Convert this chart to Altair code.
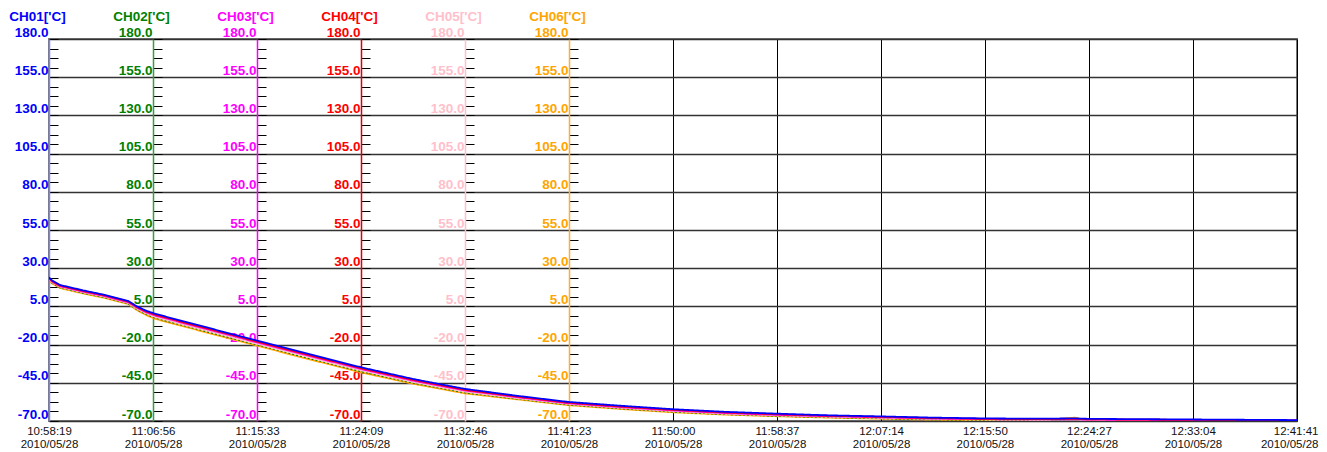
import altair as alt
import pandas as pd

# ---------------- data ----------------
channels = ["CH01", "CH02", "CH03", "CH04", "CH05", "CH06"]
unit = "['C]"
colors = ["#0000ff", "#008000", "#ff00ff", "#ff0000", "#ffc0cb", "#ffa500"]
axis_line_colors = ["#7f7fff", "#3c9c3c", "#ff00ff", "#e00000", "#ffc0cb", "#ffb030"]

day = (2010, 5, 28)
x_tick_labels = ["10:58:19", "11:06:56", "11:15:33", "11:24:09", "11:32:46",
                 "11:41:23", "11:50:00", "11:58:37", "12:07:14", "12:15:50",
                 "12:24:27", "12:33:04", "12:41:41"]

times = ["10:58:19", "10:58:34", "10:59:14", "11:01:08", "11:02:57", "11:04:52",
         "11:05:36", "11:06:21", "11:07:06", "11:09:10", "11:11:24", "11:13:28",
         "11:15:33", "11:19:56", "11:24:14", "11:28:28", "11:32:46", "11:37:05",
         "11:41:18", "11:45:37", "11:50:00", "11:54:18", "11:58:37", "12:02:55",
         "12:07:14", "12:11:32", "12:15:50", "12:20:09", "12:23:18", "12:24:27",
         "12:28:46", "12:33:04", "12:37:22", "12:41:41"]

ch01 = [24.0, 22.0, 19.0, 15.5, 12.5, 8.6, 5.0, 2.2, 0.2, -4.2, -8.8, -13.1,
        -17.4, -26.4, -35.0, -42.5, -49.0, -53.5, -57.5, -60.0, -62.3, -64.0,
        -65.2, -66.3, -67.0, -67.8, -68.3, -68.5, -68.3, -68.6, -68.8, -69.0,
        -69.2, -69.4]
ch02 = [22.4, 20.4, 17.4, 13.9, 10.9, 7.0, 3.1, 0.0, -2.4, -6.8, -11.4, -15.7,
        -20.0, -29.0, -37.6, -45.0, -51.3, -55.4, -59.2, -61.7, -63.9, -65.5,
        -66.6, -67.5, -68.2, -68.9, -69.3, -69.4, -69.3, -69.5, -69.7, -69.9,
        -70.0, -70.0]
ch03 = [23.2, 21.2, 18.2, 14.7, 11.7, 7.8, 4.2, 1.2, -0.9, -5.3, -9.9, -14.2,
        -18.5, -27.5, -36.1, -43.6, -50.0, -54.4, -58.4, -60.9, -63.1, -64.8,
        -66.0, -66.9, -67.6, -68.4, -68.8, -69.0, -68.9, -69.1, -69.3, -69.5,
        -69.6, -69.8]
ch04 = [23.6, 21.6, 18.6, 15.1, 12.1, 8.2, 4.6, 1.7, -0.4, -4.8, -9.4, -13.7,
        -18.0, -27.0, -35.6, -43.1, -49.6, -54.0, -58.0, -60.5, -62.7, -64.4,
        -65.6, -66.6, -67.3, -68.1, -68.6, -68.8, -68.6, -68.9, -69.1, -69.3,
        -69.4, -69.6]
ch05 = [22.8, 20.8, 17.8, 14.3, 11.3, 7.4, 3.6, 0.6, -1.8, -6.2, -10.8, -15.1,
        -19.4, -28.4, -37.0, -44.4, -50.8, -55.0, -58.8, -61.3, -63.5, -65.2,
        -66.3, -67.2, -67.9, -68.6, -69.0, -69.2, -69.1, -69.3, -69.5, -69.7,
        -69.8, -70.0]
ch06 = [22.0, 20.0, 17.0, 13.5, 10.5, 6.6, 2.6, -0.6, -3.1, -7.5, -12.1, -16.4,
        -20.7, -29.7, -38.3, -45.6, -51.9, -55.8, -59.6, -62.1, -64.3, -65.8,
        -66.9, -67.8, -68.5, -69.1, -69.5, -69.6, -67.8, -69.7, -69.9, -70.0,
        -70.0, -70.0]
series = [ch01, ch02, ch03, ch04, ch05, ch06]

y_min, y_max = -70.0, 180.0
y_label_step = 25.0
y_minor_step = 6.25

# ---------------- table ----------------
rows = []
for name, vals in zip(channels, series):
    for t, v in zip(times, vals):
        rows.append({"time": f"{day[0]:04d}-{day[1]:02d}-{day[2]:02d}T{t}",
                     "value": v, "channel": name})
df = pd.DataFrame(rows)


def dt(s):
    h, m, sec = (int(p) for p in s.split(":"))
    return alt.DateTime(year=day[0], month=day[1], date=day[2],
                        hours=h, minutes=m, seconds=sec)


W, H = 1248, 382
n_cols = len(x_tick_labels) - 1
col_w = W / n_cols

LABEL_FONT = "Liberation Sans"

x_enc = alt.X(
    "time:T",
    scale=alt.Scale(domain=[dt(x_tick_labels[0]), dt(x_tick_labels[-1])]),
    axis=alt.Axis(
        values=[dt(s) for s in x_tick_labels],
        title=None, grid=True, gridColor="#000000", gridWidth=1,
        ticks=False, domain=False,
        labelExpr="[timeFormat(datum.value, '%H:%M:%S'), timeFormat(datum.value, '%Y/%m/%d')]",
        labelFont=LABEL_FONT, labelFontSize=11.5, labelColor="#111111",
        labelPadding=4, labelFlush=False, labelOverlap=False,
        labelLineHeight=13, labelBaseline="top", labelBound=False,
        labelAlign={"condition": {"test": "datum.index == 1", "value": "right"},
                    "value": "center"},
        labelOffset={"condition": {"test": "datum.index == 1", "value": 21},
                     "value": 0},
    ),
)

y_scale = alt.Scale(domain=[y_min, y_max], nice=False, zero=False)
n_minor = int(round((y_max - y_min) / y_minor_step))
minor_vals = [y_min + k * y_minor_step for k in range(n_minor + 1)]
n_major = int(round((y_max - y_min) / y_label_step))
major_vals = [y_min + k * y_label_step for k in range(n_major + 1)]

base = alt.Chart(df)

# grid layer (horizontal lines)
grid_layer = base.transform_filter(alt.datum.channel == channels[0]).mark_line(
    opacity=0
).encode(
    x=x_enc,
    y=alt.Y("value:Q", scale=y_scale, axis=alt.Axis(
        orient="left", values=major_vals, grid=True, gridColor="#333333",
        gridWidth=1.5, domain=False, ticks=False, labels=False, title=None)),
)

label_expr = (
    f"abs((datum.value - ({y_min})) % {y_label_step}) < 0.01 ? "
    "((datum.value < 0 ? '-' : '') + format(abs(datum.value), '.1f')) : ''"
)

layers = [grid_layer]
draw_order = [5, 1, 4, 2, 3, 0]
for i in draw_order:
    name = channels[i]
    ax = alt.Axis(
        orient="right", offset=-(W - i * col_w), values=minor_vals,
        grid=False, ticks=True, tickSize=9, tickColor="#000000", tickWidth=1,
        domain=True, domainColor=axis_line_colors[i], domainWidth=1.5,
        labelExpr=label_expr,
        labelAlign="right", labelBaseline="bottom", labelPadding=-10,
        labelColor=colors[i], labelFont=LABEL_FONT, labelFontSize=13.5,
        labelFontWeight="bold", labelOverlap=False, labelFlush=False,
        labelBound=False,
        title=name + unit, titleColor=colors[i], titleFont=LABEL_FONT,
        titleFontSize=13.5, titleFontWeight="bold", titleAngle=0,
        titleX=-12, titleY=-23, titleAlign="center", titleBaseline="middle",
    )
    line = base.transform_filter(alt.datum.channel == name).mark_line(
        color=colors[i], strokeWidth=1.8, clip=True,
        strokeDash=[2, 2] if i == 1 else [1, 0],
    ).encode(
        x=x_enc,
        y=alt.Y("value:Q", scale=y_scale, axis=ax),
    )
    layers.append(line)

chart = alt.layer(*layers).resolve_scale(y="independent").resolve_axis(
    y="independent"
).properties(
    width=W, height=H,
    autosize=alt.AutoSizeParams(type="none"),
    padding={"left": 41, "top": 31, "right": 22, "bottom": 30},
    background="#ffffff",
).configure_view(stroke="#777777", strokeWidth=2)

chart.save("out.html", embed_options={"renderer": "svg", "actions": False})
